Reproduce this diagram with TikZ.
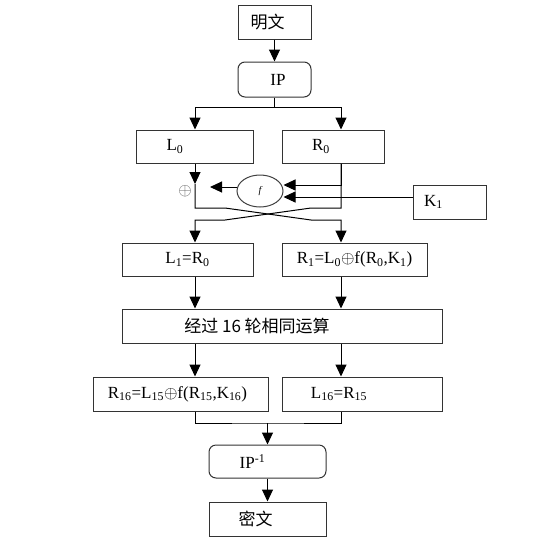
\documentclass[tikz,border=0pt]{standalone}
\usepackage{fontspec}
\setmainfont{Liberation Serif}
\newfontfamily\cjk{Noto Sans CJK SC}
\usetikzlibrary{arrows.meta}
\usetikzlibrary{shapes.geometric}

\begin{document}
\begin{tikzpicture}[x=1pt, y=-1pt, line width=1pt,
  box/.style={draw=black!80, rectangle, inner sep=0pt, font=\fontsize{17}{19}\selectfont},
  rbox/.style={box, rounded corners=7pt},
  arr/.style={-{Triangle[length=12pt,width=11pt]}}]

  \useasboundingbox (0,0) rectangle (556,541);

  % Columns of the two halves
  \coordinate (colL) at (195,0);
  \coordinate (colR) at (341,0);

  % Input and initial permutation
  \node[box, minimum width=73pt, minimum height=34pt] (plain) at (274.5,22) {\cjk 明文\hspace*{14pt}};
  \node[rbox, minimum width=73pt, minimum height=35pt] (ip) at (274.5,79.5) {\hspace*{7pt}IP};

  % First round
  \node[box, minimum width=117pt, minimum height=33pt] (L0) at (194.5,146.5) {L\textsubscript{0}\hspace*{39pt}};
  \node[box, minimum width=102pt, minimum height=33pt] (R0) at (333,146.5) {R\textsubscript{0}\hspace*{24pt}};
  \node[draw=black!75, ellipse, minimum width=46pt, minimum height=32pt, inner sep=0pt,
        font=\fontsize{10}{12}\selectfont\itshape] (f) at (260,191) {f};
  \node[inner sep=0pt, text=black!65, font=\fontsize{17}{18}\selectfont] (xor) at (185,191) {$\oplus$};
  \node[box, minimum width=73pt, minimum height=34pt] (K1) at (449.5,202) {K\textsubscript{1}\hspace*{32pt}};
  \coordinate (fout) at (210,187);

  % Output of the first round
  \node[box, minimum width=131pt, minimum height=33pt] (L1) at (187.5,259.5) {L\textsubscript{1}=R\textsubscript{0}};
  \node[box, minimum width=145pt, minimum height=33pt] (R1) at (354.5,259.5) {R\textsubscript{1}=L\textsubscript{0}$\oplus$f(R\textsubscript{0},K\textsubscript{1})};

  % Remaining rounds
  \node[box, minimum width=320pt, minimum height=34pt] (rounds) at (282,326) {\cjk 经过 16 轮相同运算\hspace*{50pt}};
  \node[box, minimum width=175pt, minimum height=34pt] (R16) at (180.5,394) {R\textsubscript{16}=L\textsubscript{15}$\oplus$f(R\textsubscript{15},K\textsubscript{16})\hspace*{6pt}};
  \node[box, minimum width=160pt, minimum height=34pt] (L16) at (362,394) {L\textsubscript{16}=R\textsubscript{15}\hspace*{46pt}};

  % Final permutation and output
  \node[rbox, minimum width=117pt, minimum height=33pt] (ipinv) at (267.5,461.5) {IP\textsuperscript{-1}\hspace*{30pt}};
  \node[box, minimum width=117pt, minimum height=34pt] (cipher) at (267.5,519) {\cjk 密文\hspace*{24pt}};

  % Top part
  \draw[arr] (plain) -- (ip);
  \draw (ip.south) -- (274.5,107) coordinate (split);
  \draw[arr] (split) -| (L0.north -| colL);
  \draw[arr] (split) -| (R0.north -| colR);

  % Round function
  \draw[arr] (L0.south -| colL) -- (195,184) coordinate (xin);
  \draw[arr] ([yshift=4pt]f.west) -- (fout);
  \draw[arr] (R0.south -| colR) |- ([yshift=6pt]f.east);
  \draw[arr] ([yshift=5pt]K1.west) -- ([yshift=-6pt]f.east);

  % Swap of the halves
  \draw[arr] (xin) -- (195,208) -- (225,208) -- (311,220) -- (341,220) -- (R1.north -| colR);
  \draw[arr] (R0.south -| colR) -- (341,208) -- (311,208) -- (225,220) -- (195,220) -- (L1.north -| colL);

  % Into and out of the 16 rounds
  \draw[arr] (L1.south -| colL) -- (rounds.north -| colL);
  \draw[arr] (R1.south -| colR) -- (rounds.north -| colR);
  \draw[arr] (rounds.south -| colL) -- (R16.north -| colL);
  \draw[arr] (rounds.south -| colR) -- (L16.north -| colR);

  % Bottom part
  \draw (R16.south -| colL) |- (267.5,423) coordinate (join) -| (L16.south -| colR);
  \draw[arr] (join) -- (ipinv);
  \draw[arr] (ipinv) -- (cipher);

\end{tikzpicture}
\end{document}
